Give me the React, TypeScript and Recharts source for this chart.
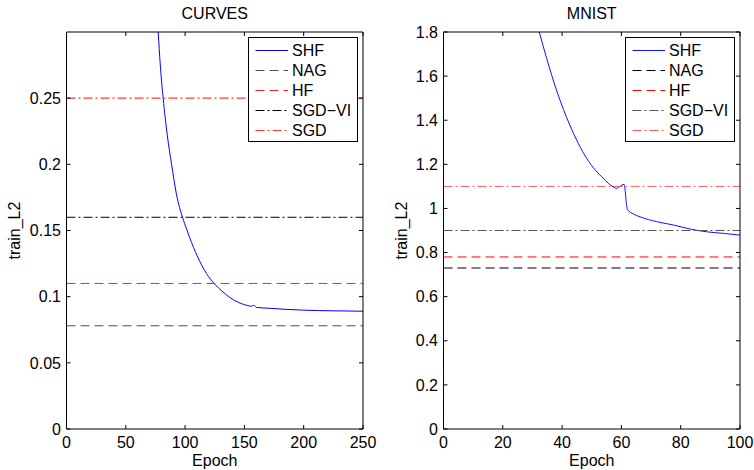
import React from 'react';
import { LineChart, Line, XAxis, YAxis, Legend } from 'recharts';

// ---------- data ----------
const seriesNames = ['SHF', 'NAG', 'HF', 'SGD\u2212VI', 'SGD'];

// CURVES panel
const curvesEpochs = [77.3, 79, 81.5, 85, 88.6, 92.8, 97.8, 101.5, 105.4, 112.5, 118, 125, 132, 140.6, 150, 156, 157.5, 158.5, 160, 171.5, 185, 200, 225, 250];
const curvesSHF = [0.3, 0.276, 0.25, 0.222, 0.2, 0.177, 0.16, 0.1505, 0.141, 0.1265, 0.1175, 0.1095, 0.1035, 0.0977, 0.094, 0.0928, 0.0934, 0.0933, 0.0919, 0.0912, 0.0904, 0.0898, 0.0893, 0.089];
const curvesBaselines = [0.078, 0.11, 0.16, 0.25]; // NAG, HF, SGD-VI, SGD
const curvesXTicks = [0, 50, 100, 150, 200, 250];
const curvesYTicks = [0, 0.05, 0.1, 0.15, 0.2, 0.25];
const curvesXDomain = [0, 250];
const curvesYDomain = [0, 0.3];

// MNIST panel
const mnistEpochs = [32.3, 34.8, 38.3, 42.6, 48.3, 53.9, 57.2, 58.4, 59.5, 60.9, 62, 64, 66.3, 71.9, 77.5, 83.1, 88.8, 94.4, 100];
const mnistSHF = [1.8, 1.68, 1.529, 1.378, 1.227, 1.136, 1.098, 1.091, 1.1, 1.109, 0.996, 0.975, 0.962, 0.94, 0.925, 0.907, 0.894, 0.887, 0.879];
const mnistBaselines = [0.73, 0.78, 0.9, 1.1]; // NAG, HF, SGD-VI, SGD
const mnistXTicks = [0, 20, 40, 60, 80, 100];
const mnistYTicks = [0, 0.2, 0.4, 0.6, 0.8, 1, 1.2, 1.4, 1.6, 1.8];
const mnistXDomain = [0, 100];
const mnistYDomain = [0, 1.8];

// ---------- styles ----------
const FONT = '"Liberation Sans", Arial, Helvetica, sans-serif';
const DASH = '9 5';
const DASHDOT = '9 3 2 3';

const curvesStyles = [
  { color: '#0000ff', dash: undefined, width: 1 },
  { color: '#505050', dash: DASH, width: 1 },
  { color: '#ff2020', dash: DASH, width: 1 },
  { color: '#000000', dash: DASHDOT, width: 1 },
  { color: '#ff3a3a', dash: DASHDOT, width: 1.1 },
];
const mnistStyles = [
  { color: '#1010ff', dash: undefined, width: 1 },
  { color: '#000000', dash: DASH, width: 1 },
  { color: '#ff0000', dash: DASH, width: 1 },
  { color: '#555555', dash: DASHDOT, width: 1 },
  { color: '#ff5a5a', dash: DASHDOT, width: 1 },
];

// ---------- ticks ----------
const BottomTick = (props: any) => {
  const { x, y, payload } = props;
  return (
    <g>
      <line x1={x} x2={x} y1={y} y2={y - 4} stroke="#000" />
      <text x={x} y={y + 19} textAnchor="middle" fontSize={16} fontFamily={FONT} fill="#000">
        {String(payload.value)}
      </text>
    </g>
  );
};
const TopTick = (props: any) => {
  const { x, y } = props;
  return <line x1={x} x2={x} y1={y} y2={y + 4} stroke="#000" />;
};
const LeftTick = (props: any) => {
  const { x, y, payload } = props;
  return (
    <g>
      <line x1={x} x2={x + 4} y1={y} y2={y} stroke="#000" />
      <text x={x - 5.5} y={y + 5.7} textAnchor="end" fontSize={16} fontFamily={FONT} fill="#000">
        {String(payload.value)}
      </text>
    </g>
  );
};
const RightTick = (props: any) => {
  const { x, y } = props;
  return <line x1={x - 4} x2={x} y1={y} y2={y} stroke="#000" />;
};

// ---------- legend ----------
const LegendBox = ({ styles }: { styles: any[] }) => (
  <svg width={110} height={105} style={{ display: 'block' }}>
    <rect x={0.5} y={0.5} width={109} height={104} fill="#fff" stroke="#000" />
    {seriesNames.map((name, i) => {
      const cy = 13.5 + 20 * i;
      const s = styles[i];
      return (
        <g key={name}>
          <line x1={7.5} x2={40} y1={cy} y2={cy} stroke={s.color} strokeDasharray={s.dash} strokeWidth={s.width} />
          <text x={44} y={cy + 5.7} fontSize={16} fontFamily={FONT} fill="#000">
            {name}
          </text>
        </g>
      );
    })}
  </svg>
);

type PanelProps = {
  title: string;
  epochs: number[];
  shf: number[];
  baselines: number[];
  styles: any[];
  xDomain: number[];
  yDomain: number[];
  xTicks: number[];
  yTicks: number[];
  yLabelDx: number;
};

const Panel = ({ title, epochs, shf, baselines, styles, xDomain, yDomain, xTicks, yTicks, yLabelDx }: PanelProps) => {
  const shfData = epochs.map((e, i) => ({ epoch: e, value: shf[i] }));
  const baseData = baselines.map((v) => [
    { epoch: xDomain[0], value: v },
    { epoch: xDomain[1], value: v },
  ]);
  const allData = [shfData, ...baseData];
  return (
    <LineChart width={377} height={470} margin={{ top: 0, right: 0, bottom: 0, left: 0 }}>
      <XAxis
        xAxisId="b"
        dataKey="epoch"
        type="number"
        orientation="bottom"
        domain={xDomain}
        allowDataOverflow
        ticks={xTicks}
        interval={0}
        height={41}
        tickSize={0}
        tickMargin={0}
        tickLine={false}
        tick={<BottomTick />}
        axisLine={{ stroke: '#000', strokeWidth: 1 }}
        label={{ value: 'Epoch', position: 'insideBottom', offset: 4, fontSize: 16, fontFamily: FONT, fill: '#000' }}
      />
      <XAxis
        xAxisId="t"
        dataKey="epoch"
        type="number"
        orientation="top"
        domain={xDomain}
        allowDataOverflow
        ticks={xTicks}
        interval={0}
        height={32}
        tickSize={0}
        tickMargin={0}
        tickLine={false}
        tick={<TopTick />}
        axisLine={{ stroke: '#000', strokeWidth: 1 }}
        label={{ value: title, position: 'center', dy: -3, fontSize: 16, fontFamily: FONT, fill: '#000' }}
      />
      <YAxis
        yAxisId="l"
        type="number"
        orientation="left"
        domain={yDomain}
        allowDataOverflow
        ticks={yTicks}
        interval={0}
        width={66.5}
        tickSize={0}
        tickMargin={0}
        tickLine={false}
        tick={<LeftTick />}
        axisLine={{ stroke: '#000', strokeWidth: 1 }}
        label={{ value: 'train_L2', angle: -90, position: 'center', dx: yLabelDx, fontSize: 16, fontFamily: FONT, fill: '#000' }}
      />
      <YAxis
        yAxisId="r"
        type="number"
        orientation="right"
        domain={yDomain}
        allowDataOverflow
        ticks={yTicks}
        interval={0}
        width={14}
        tickSize={0}
        tickMargin={0}
        tickLine={false}
        tick={<RightTick />}
        axisLine={{ stroke: '#000', strokeWidth: 1 }}
      />
      {seriesNames.map((name, i) => (
        <Line
          key={name}
          name={name}
          xAxisId="b"
          yAxisId="l"
          data={allData[i]}
          dataKey="value"
          type={i === 0 ? 'monotone' : 'linear'}
          stroke={styles[i].color}
          strokeWidth={styles[i].width}
          strokeDasharray={styles[i].dash}
          dot={false}
          activeDot={false}
          isAnimationActive={false}
        />
      ))}
      <Legend
        layout="vertical"
        align="center"
        verticalAlign="middle"
        wrapperStyle={{ left: 248, top: 37, width: 110, height: 105 }}
        content={() => <LegendBox styles={styles} />}
      />
    </LineChart>
  );
};

export default function App() {
  return (
    <div style={{ position: 'absolute', left: 0, top: 0, width: 754, height: 470, background: '#fff' }}>
      <div style={{ position: 'absolute', left: 0, top: 0 }}>
        <Panel
          title="CURVES"
          epochs={curvesEpochs}
          shf={curvesSHF}
          baselines={curvesBaselines}
          styles={curvesStyles}
          xDomain={curvesXDomain}
          yDomain={curvesYDomain}
          xTicks={curvesXTicks}
          yTicks={curvesYTicks}
          yLabelDx={-19}
        />
      </div>
      <div style={{ position: 'absolute', left: 377, top: 0 }}>
        <Panel
          title="MNIST"
          epochs={mnistEpochs}
          shf={mnistSHF}
          baselines={mnistBaselines}
          styles={mnistStyles}
          xDomain={mnistXDomain}
          yDomain={mnistYDomain}
          xTicks={mnistXTicks}
          yTicks={mnistYTicks}
          yLabelDx={-9}
        />
      </div>
    </div>
  );
}
